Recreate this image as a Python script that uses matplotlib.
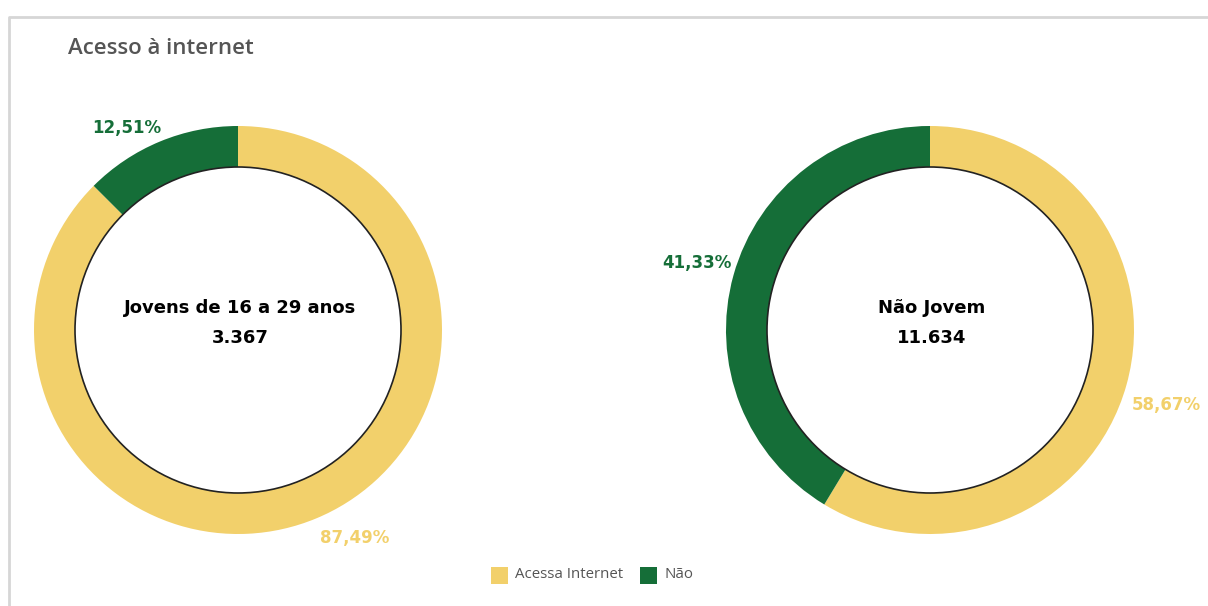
import matplotlib.pyplot as plt
from matplotlib.patches import Circle, Rectangle

# dados
grupos = ['Jovens de 16 a 29 anos', 'Não Jovem']
totais = ['3.367', '11.634']
acessa = [87.49, 58.67]
nao = [12.51, 41.33]
categorias = ['Acessa Internet', 'Não']
cores = ['#F2D06B', '#156E38']

W, H = 1208, 606
fig = plt.figure(figsize=(W / 100, H / 100), dpi=100)
ax = fig.add_axes([0, 0, 1, 1])
ax.set_xlim(0, W)
ax.set_ylim(0, H)
ax.axis('off')

fonte = ['Open Sans', 'DejaVu Sans']
negrito = ['DejaVu Sans']

# moldura cinza (topo e esquerda)
ax.plot([8.5, 8.5, W], [0, H - 16.5, H - 16.5], color='#d6d6d6', lw=2, solid_capstyle='butt')

ax.text(68, H - 49, 'Acesso à internet', fontsize=16, color='#555555',
        fontfamily=fonte, fontweight='semibold', va='center', ha='left')

centros = [(238, H - 330), (930, H - 330)]
r_ext, r_int = 204, 163

for i, (cx, cy) in enumerate(centros):
    ax.pie([acessa[i], nao[i]], colors=cores, startangle=90, counterclock=False,
           center=(cx, cy), radius=r_ext, frame=True,
           wedgeprops=dict(width=r_ext - r_int, linewidth=0))
    ax.add_patch(Circle((cx, cy), r_int, facecolor='white', edgecolor='#222222', lw=1.2, zorder=3))
    ax.text(cx + 2, cy + 22, grupos[i], fontsize=13, fontweight='bold', fontfamily=negrito,
            ha='center', va='center', zorder=4)
    ax.text(cx + 2, cy - 8, totais[i], fontsize=13, fontweight='bold', fontfamily=negrito,
            ha='center', va='center', zorder=4)

ax.set_xlim(0, W)
ax.set_ylim(0, H)
ax.set_aspect('auto')

def fmt(v):
    return f'{v:.2f}%'.replace('.', ',')

ax.text(127, H - 128, fmt(nao[0]), color=cores[1], fontsize=12, fontweight='bold',
        fontfamily=negrito, ha='center', va='center')
ax.text(355, H - 538, fmt(acessa[0]), color=cores[0], fontsize=12, fontweight='bold',
        fontfamily=negrito, ha='center', va='center')
ax.text(697, H - 263, fmt(nao[1]), color=cores[1], fontsize=12, fontweight='bold',
        fontfamily=negrito, ha='center', va='center')
ax.text(1166, H - 405, fmt(acessa[1]), color=cores[0], fontsize=12, fontweight='bold',
        fontfamily=negrito, ha='center', va='center')

# legenda
lx = [491, 640]
for j, cat in enumerate(categorias):
    ax.add_patch(Rectangle((lx[j], H - 584), 17, 17, facecolor=cores[j], edgecolor='none'))
    ax.text(lx[j] + 24, H - 575, cat, fontsize=10.8, color='#555555', fontfamily=fonte,
            ha='left', va='center')

fig.savefig('out.png', dpi=100)
